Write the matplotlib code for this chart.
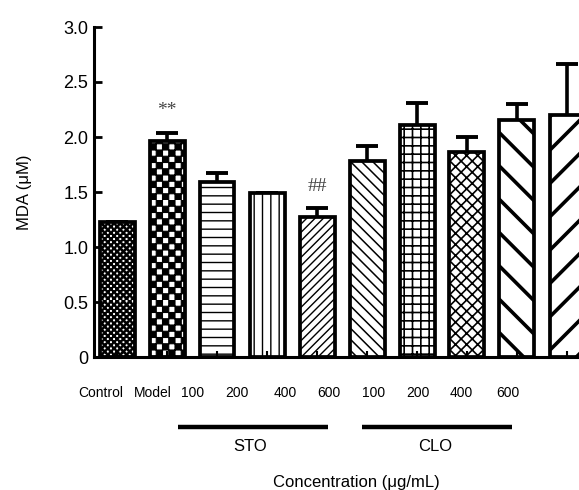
import numpy as np
import matplotlib
matplotlib.use("Agg")
import matplotlib.pyplot as plt
import matplotlib.hatch as mhatch
from matplotlib.path import Path
import matplotlib.transforms as mtrans
import warnings

warnings.filterwarnings("ignore")

# ---------------- data ----------------
groups = ["Control", "Model", "STO100", "STO200", "STO400", "STO600",
          "CLO100", "CLO200", "CLO400", "CLO600"]
mda_mean = [1.23, 1.96, 1.59, 1.49, 1.27, 1.78, 2.11, 1.86, 2.15, 2.20]
mda_err = [0.00, 0.08, 0.08, 0.00, 0.08, 0.14, 0.20, 0.14, 0.15, 0.46]
tick_labels = ["Control", "Model", "100", "200", "400", "600",
               "100", "200", "400", "600"]
tick_label_pos = [-0.32, 0.72, 1.52, 2.40, 3.36, 4.24, 5.14, 6.02, 6.88, 7.82]
hatches = ["cc", "c", "--", "||", "////", "\\\\\\", "++", "xxx", "\\", "/"]
hatch_lw = [0.8, 0.8, 1.0, 1.0, 1.0, 1.1, 1.2, 1.2, 2.6, 2.6]
yticks = [0, 0.5, 1.0, 1.5, 2.0, 2.5, 3.0]
group_names = ["STO", "CLO"]
group_spans = [(1.22, 4.22), (4.90, 7.90)]
group_text_x = [2.66, 6.36]
sig_marks = ["**", "##"]
sig_x = [1, 4]
sig_y = [2.24, 1.55]


# ---------- custom checkerboard hatch ('c') ----------
class CheckerHatch(mhatch.HatchPatternBase):
    def __init__(self, hatch, density):
        self.n = hatch.count("c")
        self.N = 8 * self.n  # checker periods per hatch cell
        if self.n:
            self.num_vertices = (2 * self.N) * self.N * 5
        else:
            self.num_vertices = 0

    def set_vertices_and_codes(self, vertices, codes):
        s = 1.0 / (2 * self.N)
        k = 0
        for i in range(2 * self.N):
            for j in range(2 * self.N):
                if (i + j) % 2 == 0:
                    x0, y0 = i * s, j * s
                    vertices[k:k + 5] = [(x0, y0), (x0 + s, y0),
                                         (x0 + s, y0 + s), (x0, y0 + s),
                                         (x0, y0)]
                    codes[k:k + 5] = [Path.MOVETO, Path.LINETO, Path.LINETO,
                                      Path.LINETO, Path.CLOSEPOLY]
                    k += 5


mhatch._hatch_types.append(CheckerHatch)
mhatch._validate_hatch_pattern = lambda h: None

plt.rcParams["font.family"] = ["Liberation Sans", "DejaVu Sans"]
plt.rcParams["hatch.linewidth"] = 1.0

fig = plt.figure(figsize=(5.79, 4.90), dpi=100)
ax = fig.add_axes([94 / 579, 133 / 490, 498 / 579, 330 / 490])

x = np.arange(len(groups))

ax.errorbar(x, mda_mean, yerr=mda_err, fmt="none", ecolor="black",
            elinewidth=2.6, capsize=8, capthick=2.8, zorder=1.5)

bars = ax.bar(x, mda_mean, width=0.7, color="white", edgecolor="black",
              linewidth=2.7, zorder=2)
for b, h, lw in zip(bars, hatches, hatch_lw):
    b.set_hatch(h)
    if hasattr(b, "set_hatch_linewidth"):
        b.set_hatch_linewidth(lw)

ax.set_xlim(-0.46, 9.5)
ax.set_ylim(0, 3.0)
ax.set_axisbelow(False)

ax.spines["top"].set_visible(False)
ax.spines["right"].set_visible(False)
ax.spines["left"].set_linewidth(2.2)
ax.spines["bottom"].set_linewidth(2.2)

ax.set_yticks(yticks)
ax.set_yticklabels(["0" if v == 0 else f"{v:.1f}" for v in yticks])
ax.tick_params(axis="y", direction="in", length=6, width=2,
               labelsize=13, pad=4)

ax.set_xticks(tick_label_pos)
ax.set_xticklabels(tick_labels)
ax.set_xticks(x, minor=True)
ax.tick_params(axis="x", which="major", length=0, labelsize=10, pad=21)
ax.tick_params(axis="x", which="minor", direction="in", length=4, width=1.5)

trans = mtrans.blended_transform_factory(ax.transData, ax.transAxes)
for name, (x0, x1), tx in zip(group_names, group_spans, group_text_x):
    ax.plot([x0, x1], [-0.212, -0.212], color="black", lw=3.2,
            transform=trans, clip_on=False, solid_capstyle="butt")
    ax.text(tx, -0.27, name, transform=trans, ha="center", va="center",
            fontsize=12)

for m, sx, sy in zip(sig_marks, sig_x, sig_y):
    ax.text(sx, sy, m, ha="center", va="center", fontsize=14,
            family="Liberation Serif", color="#444444")

ax.set_xlabel("Concentration (\u03bcg/mL)", fontsize=12, va="center")
ax.xaxis.set_label_coords(0.526, -0.379)
ax.set_ylabel("MDA (\u03bcM)", fontsize=12, va="center")
ax.yaxis.set_label_coords(-0.14, 0.5)

fig.savefig("out.png", dpi=100)
